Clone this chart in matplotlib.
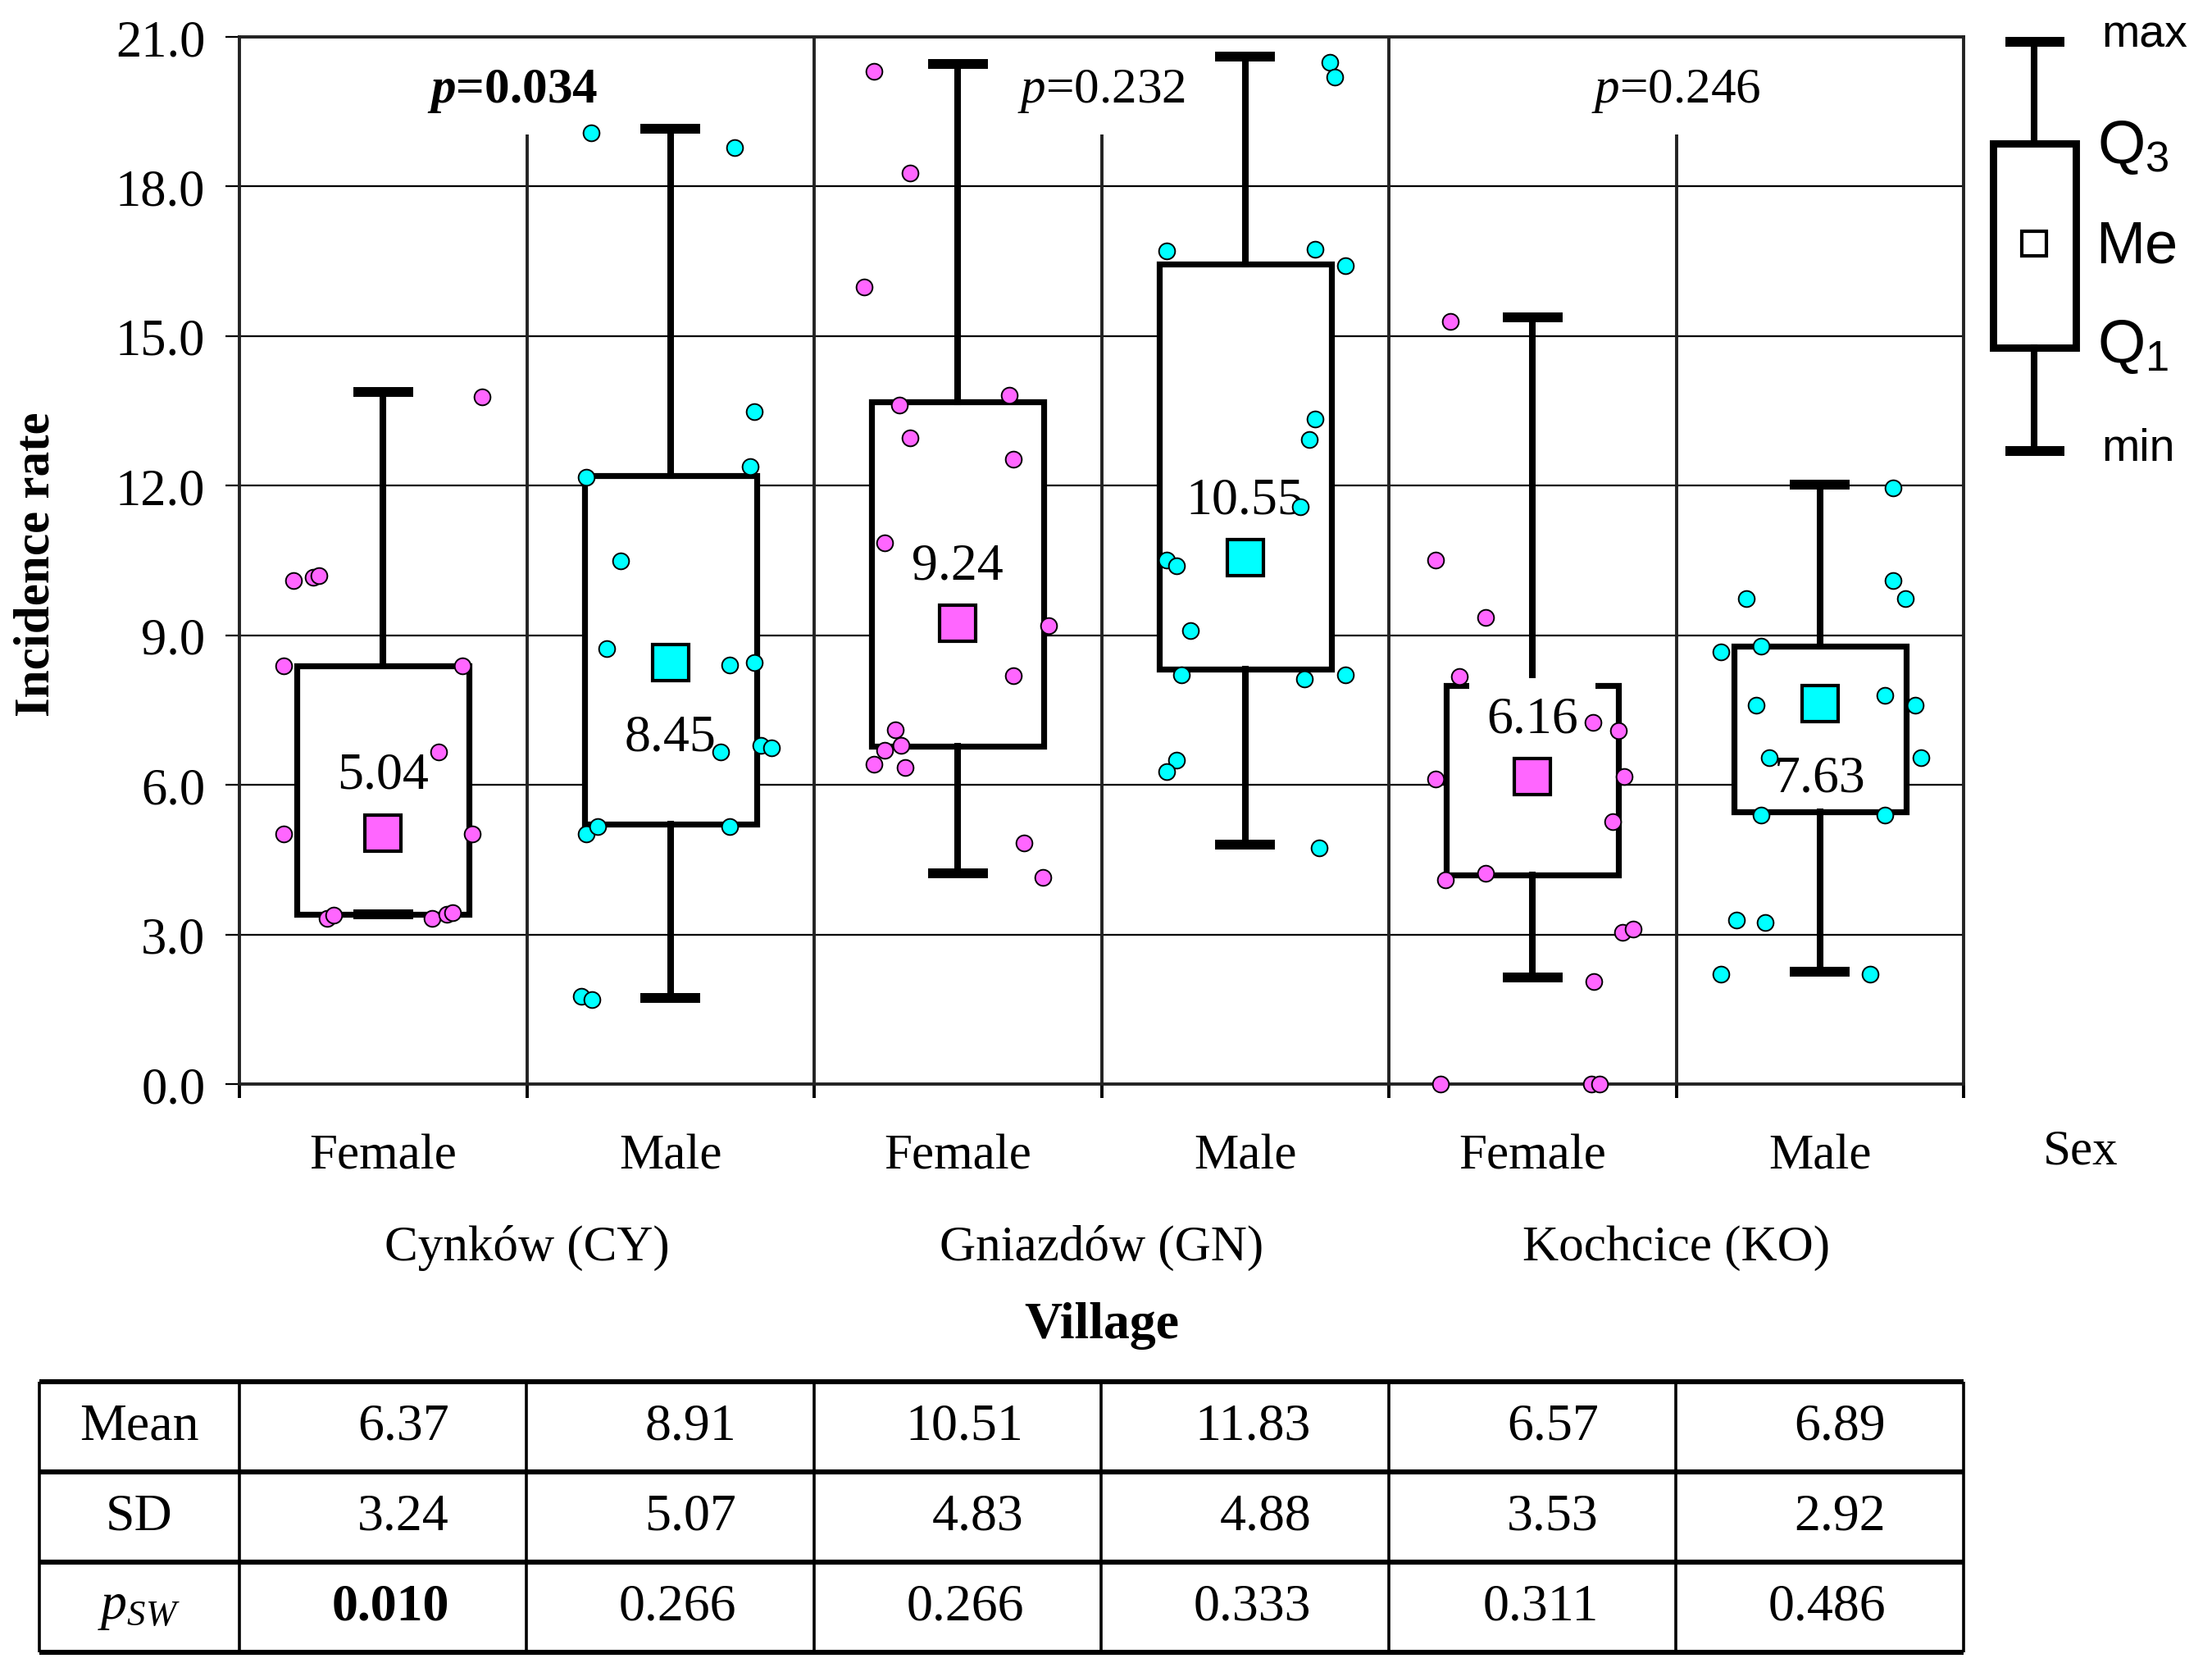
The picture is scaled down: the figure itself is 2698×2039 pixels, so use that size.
import numpy as np
import matplotlib
matplotlib.use('Agg')
import matplotlib.pyplot as plt
from matplotlib.patches import Rectangle
from matplotlib.transforms import blended_transform_factory

# ---------------- datos ----------------
villages = ['Cynków (CY)', 'Gniazdów (GN)', 'Kochcice (KO)']
sexes = ['Female', 'Male']
p_values = ['0.034', '0.232', '0.246']
p_bold = [True, False, False]

# estadisticos de cada caja (CY F, CY M, GN F, GN M, KO F, KO M)
median = [5.04, 8.45, 9.24, 10.55, 6.16, 7.63]
q1 = [3.40, 5.22, 6.77, 8.32, 4.19, 5.46]
q3 = [8.39, 12.21, 13.68, 16.44, 8.00, 8.78]
vmin = [3.40, 1.73, 4.23, 4.80, 2.13, 2.26]
vmax = [13.88, 19.15, 20.46, 20.60, 15.37, 12.02]
label_above = [True, False, True, True, True, False]

# puntos individuales
pts_cy_f = [13.78, 10.09, 10.16, 10.20, 8.39, 8.39, 6.66, 5.01, 5.01, 3.33, 3.38, 3.33, 3.40, 3.43]
jit_cy_f = [0.344, -0.313, -0.242, -0.223, -0.347, 0.275, 0.193, -0.347, 0.309, -0.195, -0.171, 0.171, 0.223, 0.242]
pts_cy_m = [19.08, 18.78, 13.48, 12.39, 12.17, 10.49, 8.73, 8.41, 8.45, 6.66, 6.79, 6.75, 5.01, 5.16, 5.16, 1.76, 1.69]
jit_cy_m = [-0.275, 0.224, 0.292, 0.278, -0.292, -0.173, -0.223, 0.207, 0.292, 0.174, 0.314, 0.351, -0.292, -0.254, 0.207, -0.309, -0.274]
pts_gn_f = [20.31, 18.27, 15.99, 13.62, 13.82, 12.96, 12.53, 10.86, 9.20, 8.19, 7.11, 6.70, 6.79, 6.41, 6.35, 4.83, 4.14]
jit_gn_f = [-0.292, -0.166, -0.325, -0.202, 0.180, -0.166, 0.193, -0.254, 0.316, 0.193, -0.218, -0.254, -0.199, -0.292, -0.183, 0.231, 0.297]
pts_gn_m = [20.49, 20.19, 16.70, 16.74, 16.41, 13.34, 12.92, 11.57, 10.51, 10.40, 9.09, 8.21, 8.13, 8.21, 6.49, 6.26, 4.74]
jit_gn_m = [0.294, 0.313, -0.274, 0.242, 0.349, 0.242, 0.223, 0.192, -0.274, -0.238, -0.190, -0.223, 0.207, 0.349, -0.240, -0.274, 0.258]
pts_ko_f = [15.30, 10.51, 9.35, 8.18, 7.26, 7.08, 6.11, 6.16, 5.26, 4.10, 4.23, 3.05, 3.10, 2.06, 0.00, 0.00, 0.00]
jit_ko_f = [-0.287, -0.337, -0.162, -0.256, 0.211, 0.299, -0.337, 0.318, 0.280, -0.304, -0.162, 0.314, 0.349, 0.213, -0.321, 0.206, 0.233]
pts_ko_m = [11.95, 9.74, 10.09, 9.74, 8.66, 8.78, 7.59, 7.80, 7.59, 6.55, 6.55, 5.39, 5.39, 3.29, 3.24, 2.20, 2.20]
jit_ko_m = [0.256, -0.256, 0.256, 0.297, -0.344, -0.206, -0.223, 0.225, 0.332, -0.176, 0.351, -0.206, 0.225, -0.290, -0.190, -0.344, 0.176]

points = [pts_cy_f, pts_cy_m, pts_gn_f, pts_gn_m, pts_ko_f, pts_ko_m]
jitter = [jit_cy_f, jit_cy_m, jit_gn_f, jit_gn_m, jit_ko_f, jit_ko_m]

# tabla inferior
mean_vals = ['6.37', '8.91', '10.51', '11.83', '6.57', '6.89']
sd_vals = ['3.24', '5.07', '4.83', '4.88', '3.53', '2.92']
psw_vals = ['0.010', '0.266', '0.266', '0.333', '0.311', '0.486']
psw_bold = [True, False, False, False, False, False]

# ---------------- estilo ----------------
plt.rcParams['font.family'] = 'Liberation Serif'
plt.rcParams['mathtext.fontset'] = 'custom'
plt.rcParams['mathtext.rm'] = 'Liberation Serif'
plt.rcParams['mathtext.it'] = 'Liberation Serif:italic'
plt.rcParams['mathtext.bf'] = 'Liberation Serif:bold'
plt.rcParams['mathtext.bfit'] = 'Liberation Serif:italic:bold'
plt.rcParams['mathtext.sf'] = 'Liberation Sans'

col_f = '#FF66FF'
col_m = '#00FFFF'
colors = [col_f, col_m] * 3
FS = 22

W, H = 2698, 2040


def rect(x0, y0, x1, y1):
    return [x0 / W, 1 - y1 / H, (x1 - x0) / W, (y1 - y0) / H]


fig = plt.figure(figsize=(W / 200, H / 200), dpi=200)
ax = fig.add_axes(rect(292, 46, 2395, 1323))

pos = np.arange(6) + 0.5

# rejilla
for y in np.arange(0, 22, 3):
    ax.axhline(y, color='black', lw=0.8, zorder=0.5)
ax.vlines([2, 4], 0, 21, color='#222222', lw=1.4, zorder=0.6)
ax.vlines([1, 3, 5], 0, 19.05, color='#222222', lw=1.4, zorder=0.6)

# cajas
stats = [dict(med=median[i], q1=q1[i], q3=q3[i], whislo=vmin[i], whishi=vmax[i], fliers=[])
         for i in range(6)]
ax.bxp(stats, positions=pos, widths=0.6, capwidths=0.175, patch_artist=True,
       showfliers=False,
       boxprops=dict(facecolor='white', edgecolor='black', linewidth=2.6),
       whiskerprops=dict(color='black', linewidth=2.9),
       capprops=dict(color='black', linewidth=4.3),
       medianprops=dict(linewidth=0), manage_ticks=False, zorder=2)

# etiquetas de mediana (fondo blanco; en KO-F tapa el borde superior de la caja)
label_pad = [1.5, 1.5, 1.5, 1.5, 7.5, 1.5]
for i in range(6):
    dy = 1.15 if label_above[i] else -1.5
    ax.text(pos[i], median[i] + dy, f'{median[i]:.2f}', ha='center', va='center',
            fontsize=FS + 1, zorder=3,
            bbox=dict(facecolor='white', edgecolor='none', pad=label_pad[i]))

# puntos
for i in range(6):
    ax.scatter(pos[i] + np.array(jitter[i]), points[i], s=50, c=colors[i],
               edgecolors='black', linewidths=0.7, zorder=4, clip_on=False)

# marcador de mediana
for i in range(6):
    ax.plot(pos[i], median[i], 's', ms=16, mfc=colors[i], mec='black', mew=1.5, zorder=5)

# p-valores
for j in range(3):
    if p_bold[j]:
        ax.text(2 * j + 1 - 0.05, 19.92, r'$\mathbfit{p}$=' + p_values[j], ha='center', va='center',
                fontsize=FS, fontweight='bold')
    else:
        ax.text(2 * j + 1, 19.92, r'$p$=' + p_values[j], ha='center', va='center', fontsize=FS)

ax.set_xlim(0, 6)
ax.set_ylim(0, 21)
ax.set_yticks(np.arange(0, 22, 3))
ax.set_yticklabels([f'{v:.1f}' for v in np.arange(0, 22, 3)], fontsize=FS + 0.5)
ax.set_xticks(np.arange(7))
ax.set_xticklabels([])
ax.tick_params(axis='y', length=6, width=0.8, pad=9)
ax.tick_params(axis='x', length=6, width=1.4, direction='out')
for s in ax.spines.values():
    s.set_linewidth(1.4)
    s.set_color('#222222')

# textos del eje x
tr = blended_transform_factory(ax.transData, fig.transFigure)
for i in range(6):
    ax.text(pos[i], 1 - 1411 / H, sexes[i % 2], transform=tr, ha='center', va='center', fontsize=FS)
for j in range(3):
    ax.text(2 * j + 1, 1 - 1522 / H, villages[j], transform=tr, ha='center', va='center', fontsize=FS)
ax.text(3, 1 - 1617 / H, 'Village', transform=tr, ha='center', va='center', fontsize=FS + 1,
        fontweight='bold')
fig.text(2538 / W, 1 - 1405 / H, 'Sex', ha='center', va='center', fontsize=FS)
fig.text(45 / W, 1 - 688 / H, 'Incidence rate', rotation=90, ha='center', va='center',
         fontsize=FS, fontweight='bold')

# leyenda esquematica
lax = fig.add_axes(rect(2400, 0, 2698, 600))
lax.set_xlim(2400, 2698)
lax.set_ylim(600, 0)
lax.axis('off')
lax.add_patch(Rectangle((2431, 176), 101, 249, facecolor='white', edgecolor='black', lw=3.2))
lax.plot([2481, 2481], [52, 176], color='black', lw=2.9)
lax.plot([2481, 2481], [425, 551], color='black', lw=2.9)
lax.plot([2452, 2512], [52, 52], color='black', lw=4.3)
lax.plot([2452, 2512], [551, 551], color='black', lw=4.3)
lax.plot(2481, 298, 's', ms=11, mfc='white', mec='black', mew=1.5)
lsans = dict(family='Liberation Sans', ha='left', va='center')
lax.text(2563, 44, 'max', fontsize=20, **lsans)
lax.text(2558, 180, r'$\mathsf{Q}_\mathsf{3}$', fontsize=27, **lsans)
lax.text(2556, 302, 'Me', fontsize=26, **lsans)
lax.text(2558, 423, r'$\mathsf{Q}_\mathsf{1}$', fontsize=27, **lsans)
lax.text(2563, 548, 'min', fontsize=20, **lsans)

# tabla
tax = fig.add_axes(rect(48, 1686, 2395, 2016))
x0 = -244 / 351
tax.set_xlim(x0, 6)
tax.set_ylim(3, 0)
tax.axis('off')
tax.hlines(np.arange(4), x0, 6, color='black', lw=2.2, clip_on=False)
tax.vlines([x0] + list(range(7)), 0, 3, color='black', lw=1.3, clip_on=False)
row_labels = ['Mean', 'SD', r'$p_{SW}$']
rows = [mean_vals, sd_vals, psw_vals]
for r in range(3):
    tax.text(x0 / 2, r + 0.5, row_labels[r], ha='center', va='center', fontsize=FS + 1)
    for c in range(6):
        bold = (r == 2 and psw_bold[c])
        tax.text(c + 0.73, r + 0.5, rows[r][c], ha='right', va='center', fontsize=FS + 1,
                 fontweight='bold' if bold else 'normal')

plt.savefig('out.png', dpi=200)
